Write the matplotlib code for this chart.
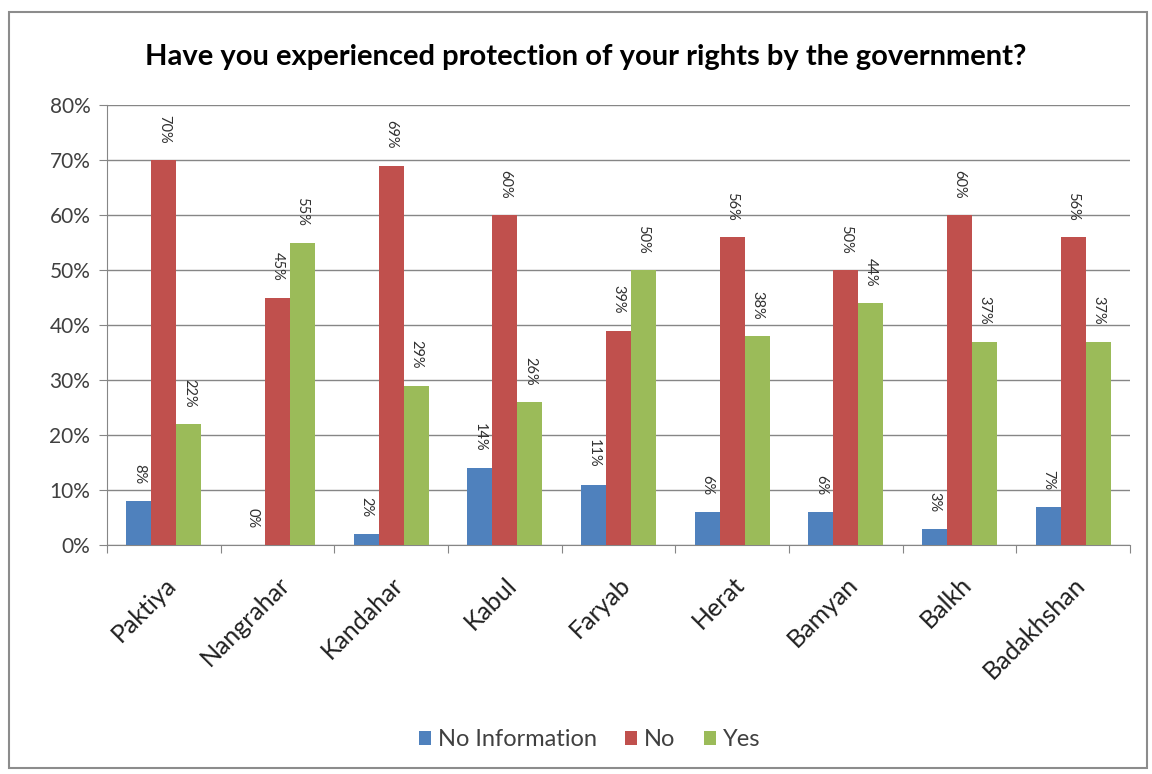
import matplotlib
matplotlib.use("Agg")
import matplotlib.pyplot as plt
from matplotlib.patches import Rectangle
import numpy as np

provinces = ["Paktiya", "Nangrahar", "Kandahar", "Kabul", "Faryab",
             "Herat", "Bamyan", "Balkh", "Badakhshan"]
no_information = [8, 0, 2, 14, 11, 6, 6, 3, 7]
no = [70, 45, 69, 60, 39, 56, 50, 60, 56]
yes = [22, 55, 29, 26, 50, 38, 44, 37, 37]

series_names = ["No Information", "No", "Yes"]
series_colors = ["#4F81BD", "#C0504D", "#9BBB59"]

plt.rcParams['font.family'] = ['Lato', 'DejaVu Sans']

fig = plt.figure(figsize=(11.52, 7.74), dpi=100)
ax = fig.add_axes([107 / 1152, 1 - 545 / 774, (1130 - 107) / 1152, (545 - 105) / 774])

x = np.arange(len(provinces))
width = 0.22
for i, (values, name, color) in enumerate(zip([no_information, no, yes], series_names, series_colors)):
    pos = x + (i - 1) * width
    ax.bar(pos, values, width, color=color, label=name, zorder=3)
    # value labels above each bar
    for px, v in zip(pos, values):
        ax.annotate("%d%%" % v, (px, v), xytext=(0, 12), textcoords="offset points",
                    rotation=-90, ha="center", va="bottom", fontsize=10.5, color="#303030")

ax.set_xlim(-0.5, len(provinces) - 0.5)
ax.set_ylim(0, 80)
ax.set_yticks(range(0, 81, 10))
ax.set_yticklabels(["%d%%" % t for t in range(0, 81, 10)], fontsize=15, color="#404040")

# category boundaries carry the tick marks, names sit at the centres
ax.set_xticks(np.arange(-0.5, len(provinces)), minor=False)
ax.set_xticklabels([])
ax.set_xticks(x, minor=True)
ax.set_xticklabels(provinces, minor=True, rotation=45, ha="right", rotation_mode="anchor",
                   fontsize=18, color="#202020")
ax.tick_params(axis="x", which="minor", length=0, pad=20)
ax.tick_params(axis="x", which="major", length=6, color="#868686", direction="out")
ax.tick_params(axis="y", length=6, color="#868686", direction="out", pad=6)

ax.yaxis.grid(True, color="#868686", linewidth=1, zorder=0)
for side in ["top", "right"]:
    ax.spines[side].set_visible(False)
for side in ["left", "bottom"]:
    ax.spines[side].set_color("#868686")

fig.text(0.508, 0.926, "Have you experienced protection of your rights by the government?",
         ha="center", va="center", fontsize=21, fontweight="bold", color="#000000")

fig.legend(loc="center", bbox_to_anchor=(0.512, 0.044), ncol=3, frameon=False,
           fontsize=17, handlelength=0.5, handleheight=0.5, handletextpad=0.3,
           columnspacing=1.2, labelcolor="#404040")

fig.patches.append(Rectangle((9 / 1152, 1 - 768 / 774), 1138 / 1152, 756 / 774,
                             transform=fig.transFigure, fill=False,
                             edgecolor="#8C8C8C", linewidth=1.5))

fig.savefig("out.png", dpi=100)
